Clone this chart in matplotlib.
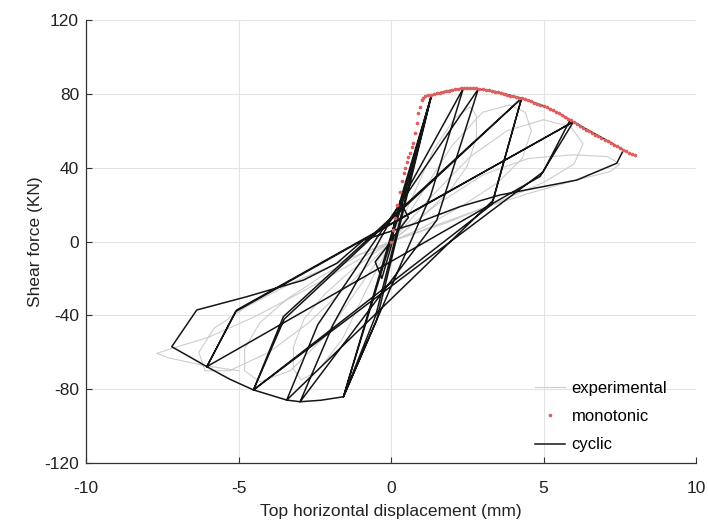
import matplotlib
matplotlib.use("Agg")
import matplotlib.pyplot as plt

plt.rcParams["font.family"] = ["Liberation Sans", "DejaVu Sans"]
plt.rcParams["axes.unicode_minus"] = False

# ── data ─────────────────────────────────────────────────────────────────────

# cyclic model response: one continuous polyline (mm, kN)
cyc_x = [0, 0.3, 0.57, 0.1, -0.3, -0.52, -0.05,
         0.35, 1.33, 0.3, -1.56, -0.47, 1.33, 0.32, -1.56, -0.5,
         1.33, 1.8, 2.37, 1.3, -1.56, -2.3, -2.98, -1.9,
         2.37, 2.86, 1.5, -2.98, -3.42, -2.4,
         2.86, 3.5, 4.28, 3.35, -3.42, -4.51, -3.53,
         4.28, 3.3, -4.51, -3.5,
         4.28, 5.0, 5.5, 5.87, 4.99, -4.51, -5.3, -6.04, -5.06,
         5.98, 4.89, -6.04, -5.1,
         5.98, 6.5, 7.0, 7.62, 7.4, 6.09, 5.1, 3.57, 2.26, 0.84,
         -0.9, -1.78, -2.87, -4.73, -6.37, -7.19, -6.6, -6.04]
cyc_y = [0, 22, 13, 3, -20, -11, -1,
         25, 79.4, 20, -84.1, -42.5, 79.4, 18, -84.1, -40,
         79.4, 81.5, 83.0, 25, -84.1, -86.0, -86.8, -45,
         83.0, 82.6, 11.6, -86.8, -85.9, -45,
         82.6, 81.0, 77.6, 22.4, -85.9, -80.4, -40.7,
         77.6, 20, -80.4, -42,
         77.6, 73.5, 69.5, 65.8, 37.8, -80.4, -74.5, -67.8, -37.1,
         64.9, 35.3, -67.8, -38,
         64.9, 60.0, 55.5, 49.6, 42.4, 33.3, 30.1, 25.2, 18.9, 10,
         0.8, -11.8, -20.9, -29.9, -37.1, -57.0, -62.5, -67.8]

# experimental hysteresis (light grey)
exp_x = [0, 0.3, 0.5, 0.35, 0, -0.35, -0.5, -0.3, 0,
         0.7, 1.4, 2.1, 2.6, 2.8, 2.8, 2.5, 1.95, 1.25, 0.55, 0,
         -0.8, -1.6, -2.4, -2.95, -3.2, -3.2, -2.85, -2.2, -1.4, -0.6, 0,
         1.0, 2.0, 3.0, 3.9, 4.4, 4.6, 4.3, 3.5, 2.4, 1.1, 0,
         -1.1, -2.2, -3.3, -4.3, -4.8, -4.8, -4.3, -3.4, -2.2, -1.0, 0,
         1.3, 2.6, 3.8, 5.0, 5.9, 6.3, 6.0, 5.0, 3.6, 1.8, 0,
         -1.3, -2.7, -4.0, -5.3, -6.1, -6.3, -5.8, -4.7, -3.2, -1.5, 0,
         1.5, 3.0, 4.5, 6.0, 7.1, 7.5, 7.2, 6.0, 4.5, 3.0, 1.5, 0,
         -1.5, -3.0, -4.5, -6.0, -7.2, -7.68, -7.3, -6.2, -5.0]
exp_y = [0, 18, 25, 15, 2, -18, -25, -14, -1,
         24, 50, 67, 73, 68, 56, 41, 28, 17, 7, 0,
         -26, -53, -70, -75, -69, -57, -42, -29, -17, -7, 0,
         26, 52, 70, 74, 70, 60, 45, 32, 20, 8, 0,
         -26, -52, -70, -76, -70, -58, -44, -31, -18, -7, 0,
         24, 46, 60, 66, 62, 53, 42, 32, 22, 10, 0,
         -22, -44, -60, -70, -70, -60, -47, -35, -22, -10, 0,
         20, 36, 45, 47, 46, 42, 38, 33, 26, 18, 9, 0,
         -14, -28, -41, -52, -58, -60.6, -63, -67, -70]

# monotonic pushover (red dots)
mono_x = [0, 0.06, 0.13, 0.2, 0.28, 0.35, 0.41, 0.46, 0.51, 0.57, 0.62,
          0.68, 0.73, 0.79, 0.84, 0.9, 0.95, 1.0, 1.05, 1.1,
          1.2, 1.3, 1.4, 1.5, 1.6, 1.7, 1.8, 1.9, 2.0, 2.1, 2.2, 2.3,
          2.4, 2.5, 2.6, 2.7, 2.8, 2.9, 3.0, 3.1, 3.2, 3.3, 3.4, 3.5,
          3.6, 3.7, 3.8, 3.9, 4.0, 4.1, 4.2, 4.3, 4.4, 4.5, 4.6, 4.7,
          4.8, 4.9, 5.0, 5.1, 5.2, 5.3, 5.4, 5.5, 5.6, 5.7, 5.8, 5.9,
          6.0, 6.1, 6.2, 6.3, 6.4, 6.5, 6.6, 6.7, 6.8, 6.9, 7.0, 7.1,
          7.2, 7.3, 7.4, 7.5, 7.6, 7.7, 7.8, 7.9, 8.0]
mono_y = [0, 6, 13, 20, 27, 33, 37, 40, 43, 46, 48,
          51, 53.4, 58.8, 64.2, 69.6, 73, 76.6, 78, 79,
          79.2, 79.5, 79.8, 80.2, 80.6, 81.0, 81.4, 81.8, 82.2, 82.5, 82.8, 83.0,
          83.1, 83.2, 83.2, 83.1, 83.0, 82.8, 82.6, 82.3, 82.0, 81.6, 81.2, 80.8,
          80.4, 80.0, 79.6, 79.1, 78.7, 78.3, 77.9, 77.5, 77.0, 76.5, 75.9, 75.3,
          74.7, 74.1, 73.5, 72.8, 72.0, 71.2, 70.4, 69.5, 68.6, 67.6, 66.6, 65.6,
          64.6, 63.6, 62.6, 61.6, 60.6, 59.7, 58.8, 57.9, 57.0, 56.1, 55.2, 54.3,
          53.4, 52.5, 51.6, 50.7, 49.8, 49.0, 48.2, 47.5, 46.8]

x_ticks = [-10, -5, 0, 5, 10]
y_ticks = [-120, -80, -40, 0, 40, 80, 120]

# ── plot ─────────────────────────────────────────────────────────────────────

fig = plt.figure(figsize=(7.08, 5.30), dpi=100)
ax = fig.add_axes([0.1215, 0.1264, 0.8616, 0.8358])

ax.plot(exp_x, exp_y, color="#cdcdcd", lw=0.8, label="experimental", zorder=2)
ax.plot(mono_x, mono_y, ".", color="#e06060", ms=3.3, label="monotonic", zorder=4)
ax.plot(cyc_x, cyc_y, color="#151515", lw=1.1, label="cyclic", zorder=3)

ax.set_xlim(-10, 10)
ax.set_ylim(-120, 120)
ax.set_xticks(x_ticks)
ax.set_yticks(y_ticks)
ax.grid(True, color="#e3e3e3", lw=0.8)
ax.set_axisbelow(True)
for s in ("top", "right"):
    ax.spines[s].set_visible(False)
for s in ("left", "bottom"):
    ax.spines[s].set_color("#333333")
    ax.spines[s].set_linewidth(0.9)
ax.tick_params(direction="in", length=4, width=0.8, colors="#333333",
               labelsize=12.5, labelcolor="#222222")
ax.tick_params(axis="x", pad=13)
ax.tick_params(axis="y", pad=5)

ax.set_xlabel("Top horizontal displacement (mm)", fontsize=12.5, color="#222222",
              labelpad=6)
ax.set_ylabel("Shear force (KN)", fontsize=12.5, color="#222222", labelpad=1)

ax.legend(loc="lower left", bbox_to_anchor=(0.722, 0.005), frameon=False,
          fontsize=12, handlelength=1.8, handletextpad=0.4, labelspacing=0.8,
          borderaxespad=0.1)

fig.savefig("out.png", dpi=100)
